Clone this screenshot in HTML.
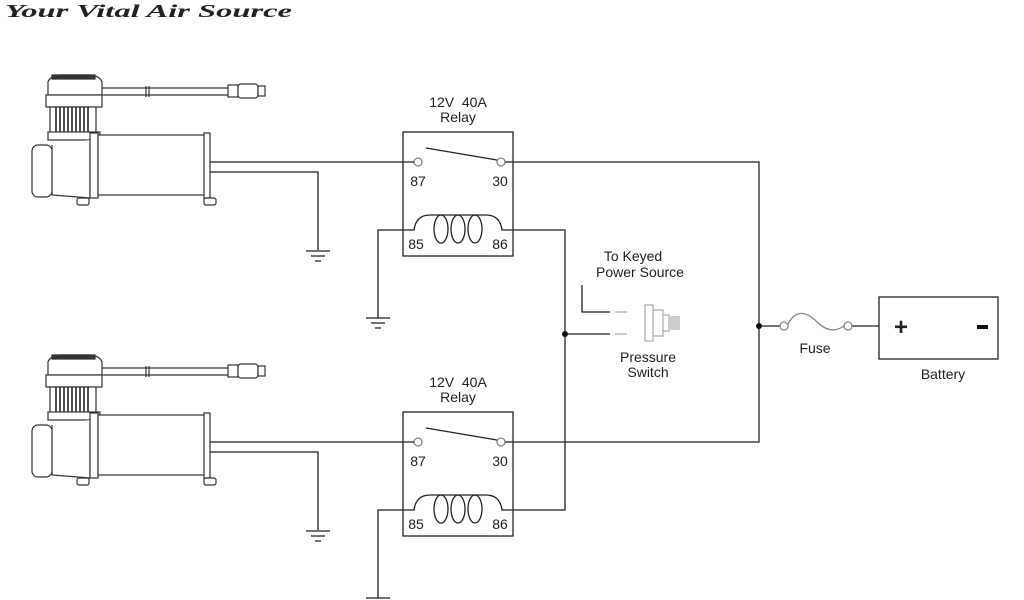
<!DOCTYPE html>
<html><head><style>
body{margin:0;background:#fff}
svg{display:block}
text{font-family:"Liberation Sans",sans-serif;fill:#222}
</style></head><body>
<svg width="1024" height="600" viewBox="0 0 1024 600" xmlns="http://www.w3.org/2000/svg">
<text x="5" y="17" textLength="287" lengthAdjust="spacingAndGlyphs" style="font-family:'Liberation Serif',serif;font-style:italic;font-weight:bold;font-size:18px" fill="#111">Your Vital Air Source</text>
<defs>
<g id="comp" fill="none" stroke="#333" stroke-width="1.2">
  <path d="M48 95 L48 82 Q50 76 60 75 L90 75 Q100 76 102 82 L102 95 Z" fill="#fff"/>
  <path d="M52 75 L95 75 L95 79 L52 79 Z" fill="#333"/>
  <rect x="46" y="95" width="56" height="12" fill="#fff"/>
  <rect x="50" y="107" width="46" height="26" fill="#fff"/>
  <path d="M56 107v26M60 107v26M64 107v26M68 107v26M72 107v26M76 107v26M80 107v26M84 107v26M88 107v26" stroke="#222" stroke-width="1.6"/>
  <rect x="48" y="132" width="52" height="8" fill="#fff"/>
  <path d="M52 145 L52 195 L90 198 L90 140" fill="#fff"/>
  <rect x="32" y="145" width="20" height="52" rx="6" fill="#fff"/>
  <rect x="90" y="133" width="8" height="65" fill="#fff"/>
  <rect x="98" y="135" width="107" height="60" fill="#fff"/>
  <rect x="204" y="133" width="6" height="65" fill="#fff"/>
  <rect x="77" y="198" width="12" height="7" rx="2" fill="#fff"/>
  <rect x="204" y="198" width="12" height="7" rx="2" fill="#fff"/>
  <path d="M102 88 H230 M102 95 H230" />
  <path d="M146 86v11 M149 86v11" />
  <rect x="228" y="85" width="10" height="12" fill="#fff"/>
  <rect x="238" y="84" width="20" height="14" rx="3" fill="#fff"/>
  <rect x="258" y="86" width="7" height="10" fill="#fff"/>
</g>
<g id="relay" fill="none" stroke="#222" stroke-width="1.3">
  <rect x="403" y="132" width="110" height="124"/>
  <circle cx="418" cy="162" r="4" fill="#fff" stroke="#888"/>
  <circle cx="501" cy="162" r="4" fill="#fff" stroke="#888"/>
  <line x1="426" y1="148" x2="497" y2="160"/>
  <path d="M403 230 H414 Q416 215 430 215 H486 Q500 215 502 230 H513"/>
  <ellipse cx="441" cy="229" rx="7" ry="14"/>
  <ellipse cx="458" cy="229" rx="7" ry="14"/>
  <ellipse cx="475" cy="229" rx="7" ry="14"/>
</g>
</defs>
<g fill="none" stroke="#222" stroke-width="1.3">
  <use href="#comp"/>
  <use href="#comp" transform="translate(0,280)"/>
  <use href="#relay"/>
  <use href="#relay" transform="translate(0,280)"/>
  <path d="M210 162 H414 M210 172 H318 V250"/>
  <path d="M210 442 H414 M210 452 H318 V530"/>
  <path d="M306 251h24 M311 256h14 M315 261h6"/>
  <path d="M306 531h24 M311 536h14 M315 541h6"/>
  <path d="M366 318h24 M371 323h14 M375 328h6"/>
  <path d="M366 598h24"/>
  <path d="M403 230 H378 V318"/>
  <path d="M403 510 H378 V598"/>
  <path d="M505 162 H759 V442 H505"/>
  <path d="M513 230 H565 V510 H513"/>
  <path d="M565 334 H610"/>
  <path d="M582 285 V312 H610"/>
  <path d="M615 312h12 M615 334h12" stroke="#aaa"/>
  <g stroke="#999" stroke-width="1">
    <rect x="645" y="305" width="8" height="36"/>
    <rect x="653" y="310" width="10" height="26"/>
    <rect x="663" y="315" width="6" height="16"/>
    <path d="M671 316v14M673 316v14M675 316v14M677 316v14M679 316v14"/>
  </g>
  <path d="M759 326 H780 M852 326 H879"/>
  <circle cx="784" cy="326" r="4" fill="#fff" stroke="#888"/>
  <circle cx="848" cy="326" r="4" fill="#fff" stroke="#888"/>
  <path d="M788 324 Q798 305 815 320 Q830 336 844 326" stroke="#888"/>
  <rect x="879" y="297" width="119" height="62"/>
</g>
<circle cx="565" cy="334" r="3" fill="#111"/>
<circle cx="759" cy="326" r="3" fill="#111"/>
<g font-size="14" text-anchor="middle">
  <text x="458" y="107">12V&#160;&#160;40A</text><text x="458" y="122">Relay</text>
  <text x="458" y="387">12V&#160;&#160;40A</text><text x="458" y="402">Relay</text>
  <text x="418" y="186">87</text><text x="500" y="186">30</text>
  <text x="416" y="249">85</text><text x="500" y="249">86</text>
  <text x="418" y="466">87</text><text x="500" y="466">30</text>
  <text x="416" y="529">85</text><text x="500" y="529">86</text>
  <text x="633" y="261">To Keyed</text><text x="640" y="277">Power Source</text>
  <text x="648" y="362">Pressure</text><text x="648" y="377">Switch</text>
  <text x="815" y="353">Fuse</text><text x="943" y="379">Battery</text>
  <text x="901" y="335" font-size="24" font-weight="bold">+</text>
  <rect x="977" y="325" width="11" height="4" fill="#111"/>
</g>
</svg>
</body></html>
